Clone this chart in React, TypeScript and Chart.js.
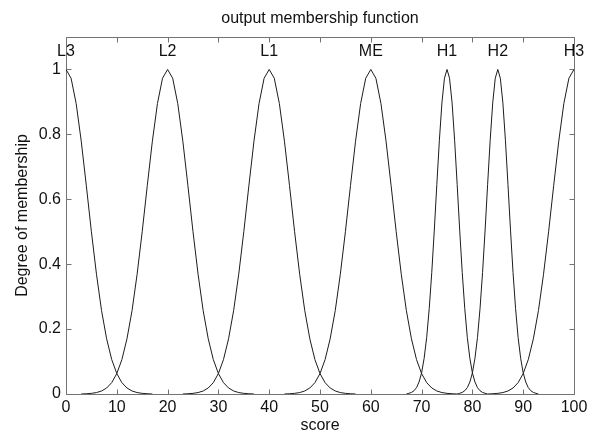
import React, { useEffect, useRef } from "react";
import { Chart, registerables } from "chart.js";

Chart.register(...registerables);

const chartTitle = "output membership function";
const xAxisTitle = "score";
const yAxisTitle = "Degree of membership";

const xTicks = [0, 10, 20, 30, 40, 50, 60, 70, 80, 90, 100];
const yTicks = [0, 0.2, 0.4, 0.6, 0.8, 1];

const mfNames = ["L3", "L2", "L1", "ME", "H1", "H2", "H3"];
const mfCenters = [0, 20, 40, 60, 75, 85, 100];
const mfLabelLevel = 1.04;

// L3 (centre 0)
const L3_x = [0, 1, 2, 3, 4, 5, 6, 7, 8, 9, 10, 11, 12, 13, 14, 15, 16, 17];
const L3_y = [1, 0.973, 0.895, 0.779, 0.642, 0.5, 0.369, 0.257, 0.17, 0.106, 0.063, 0.035, 0.0185, 0.0093, 0.0044, 0.002, 0.0008, 0];

// L2 (centre 20)
const L2_x = [3, 4, 5, 6, 7, 8, 9, 10, 11, 12, 13, 14, 15, 16, 17, 18, 19, 20, 21, 22, 23, 24, 25, 26, 27, 28, 29, 30, 31, 32, 33, 34, 35, 36, 37];
const L2_y = [0, 0.0008, 0.002, 0.0044, 0.0093, 0.0185, 0.035, 0.063, 0.106, 0.17, 0.257, 0.369, 0.5, 0.642, 0.779, 0.895, 0.973, 1, 0.973, 0.895, 0.779, 0.642, 0.5, 0.369, 0.257, 0.17, 0.106, 0.063, 0.035, 0.0185, 0.0093, 0.0044, 0.002, 0.0008, 0];

// L1 (centre 40)
const L1_x = [23, 24, 25, 26, 27, 28, 29, 30, 31, 32, 33, 34, 35, 36, 37, 38, 39, 40, 41, 42, 43, 44, 45, 46, 47, 48, 49, 50, 51, 52, 53, 54, 55, 56, 57];
const L1_y = [0, 0.0008, 0.002, 0.0044, 0.0093, 0.0185, 0.035, 0.063, 0.106, 0.17, 0.257, 0.369, 0.5, 0.642, 0.779, 0.895, 0.973, 1, 0.973, 0.895, 0.779, 0.642, 0.5, 0.369, 0.257, 0.17, 0.106, 0.063, 0.035, 0.0185, 0.0093, 0.0044, 0.002, 0.0008, 0];

// ME (centre 60)
const ME_x = [43, 44, 45, 46, 47, 48, 49, 50, 51, 52, 53, 54, 55, 56, 57, 58, 59, 60, 61, 62, 63, 64, 65, 66, 67, 68, 69, 70, 71, 72, 73, 74, 75, 76, 77];
const ME_y = [0, 0.0008, 0.002, 0.0044, 0.0093, 0.0185, 0.035, 0.063, 0.106, 0.17, 0.257, 0.369, 0.5, 0.642, 0.779, 0.895, 0.973, 1, 0.973, 0.895, 0.779, 0.642, 0.5, 0.369, 0.257, 0.17, 0.106, 0.063, 0.035, 0.0185, 0.0093, 0.0044, 0.002, 0.0008, 0];

// H1 (centre 75, narrow)
const H1_x = [67, 67.5, 68, 68.5, 69, 69.5, 70, 70.5, 71, 71.5, 72, 72.5, 73, 73.5, 74, 74.5, 75, 75.5, 76, 76.5, 77, 77.5, 78, 78.5, 79, 79.5, 80, 80.5, 81, 81.5, 82, 82.5, 83];
const H1_y = [0, 0.0022, 0.0048, 0.01, 0.0196, 0.037, 0.065, 0.11, 0.174, 0.263, 0.374, 0.505, 0.646, 0.782, 0.897, 0.973, 1, 0.973, 0.897, 0.782, 0.646, 0.505, 0.374, 0.263, 0.174, 0.11, 0.065, 0.037, 0.0196, 0.01, 0.0048, 0.0022, 0];

// H2 (centre 85, narrow)
const H2_x = [77, 77.5, 78, 78.5, 79, 79.5, 80, 80.5, 81, 81.5, 82, 82.5, 83, 83.5, 84, 84.5, 85, 85.5, 86, 86.5, 87, 87.5, 88, 88.5, 89, 89.5, 90, 90.5, 91, 91.5, 92, 92.5, 93];
const H2_y = [0, 0.0022, 0.0048, 0.01, 0.0196, 0.037, 0.065, 0.11, 0.174, 0.263, 0.374, 0.505, 0.646, 0.782, 0.897, 0.973, 1, 0.973, 0.897, 0.782, 0.646, 0.505, 0.374, 0.263, 0.174, 0.11, 0.065, 0.037, 0.0196, 0.01, 0.0048, 0.0022, 0];

// H3 (centre 100)
const H3_x = [83, 84, 85, 86, 87, 88, 89, 90, 91, 92, 93, 94, 95, 96, 97, 98, 99, 100];
const H3_y = [0, 0.0008, 0.002, 0.0044, 0.0093, 0.0185, 0.035, 0.063, 0.106, 0.17, 0.257, 0.369, 0.5, 0.642, 0.779, 0.895, 0.973, 1];

const curveXs = [L3_x, L2_x, L1_x, ME_x, H1_x, H2_x, H3_x];
const curveYs = [L3_y, L2_y, L1_y, ME_y, H1_y, H2_y, H3_y];

const AXIS_COLOR = "#737373";
const LINE_COLOR = "#1c1c1c";
const TEXT_COLOR = "#111111";
const FONT_FAMILY = '"Liberation Sans", Arial, Helvetica, sans-serif';
const FONT_SIZE = 16;

const decorPlugin = {
  id: "matlabDecor",
  beforeDatasetsDraw(chart: any) {
    const { ctx, chartArea: a, scales } = chart;
    const xs = scales.x;
    const ys = scales.y;
    ctx.save();
    ctx.strokeStyle = AXIS_COLOR;
    ctx.lineWidth = 1;
    const L = Math.round(a.left) + 0.5;
    const R = Math.round(a.right) + 0.5;
    const T = Math.round(a.top) + 0.5;
    const B = Math.round(a.bottom) + 0.5;
    ctx.beginPath();
    ctx.rect(L, T, R - L, B - T);
    ctx.stroke();
    const tl = 5;
    ctx.beginPath();
    xTicks.forEach((v) => {
      const px = Math.round(xs.getPixelForValue(v)) + 0.5;
      ctx.moveTo(px, B);
      ctx.lineTo(px, B - tl);
      ctx.moveTo(px, T);
      ctx.lineTo(px, T + tl);
    });
    yTicks.forEach((v) => {
      const py = Math.round(ys.getPixelForValue(v)) + 0.5;
      ctx.moveTo(L, py);
      ctx.lineTo(L + tl, py);
      ctx.moveTo(R, py);
      ctx.lineTo(R - tl, py);
    });
    ctx.stroke();
    ctx.restore();
  },
  afterDraw(chart: any) {
    const { ctx, chartArea: a, scales } = chart;
    const xs = scales.x;
    const ys = scales.y;
    ctx.save();
    ctx.fillStyle = TEXT_COLOR;
    ctx.font = `${FONT_SIZE}px ${FONT_FAMILY}`;
    ctx.textAlign = "center";
    ctx.textBaseline = "alphabetic";
    const cx = (a.left + a.right) / 2;
    ctx.fillText(chartTitle, cx, 23);
    ctx.fillText(xAxisTitle, cx, 430);
    mfNames.forEach((n, i) => {
      ctx.fillText(n, xs.getPixelForValue(mfCenters[i]), ys.getPixelForValue(mfLabelLevel));
    });
    ctx.translate(27, (a.top + a.bottom) / 2);
    ctx.rotate(-Math.PI / 2);
    ctx.fillText(yAxisTitle, 0, 0);
    ctx.restore();
  },
};

export default function App() {
  const canvasRef = useRef<HTMLCanvasElement | null>(null);

  useEffect(() => {
    if (!canvasRef.current) return;
    const datasets = mfNames.map((name, i) => ({
      label: name,
      data: curveXs[i].map((x, j) => ({ x, y: curveYs[i][j] })),
      borderColor: LINE_COLOR,
      borderWidth: 1,
      pointRadius: 0,
      fill: false,
      tension: 0,
    }));
    const chart = new Chart(canvasRef.current, {
      type: "line",
      data: { datasets },
      options: {
        animation: false,
        responsive: true,
        maintainAspectRatio: false,
        layout: { padding: { left: 0, right: 20, top: 37, bottom: 0 } },
        plugins: {
          legend: { display: false },
          title: { display: false },
          tooltip: { enabled: false },
        },
        scales: {
          x: {
            type: "linear",
            min: 0,
            max: 100,
            grid: { display: false, drawTicks: false },
            border: { display: false },
            afterBuildTicks: (scale: any) => {
              scale.ticks = xTicks.map((v) => ({ value: v }));
            },
            afterFit: (scale: any) => {
              scale.height = 40;
            },
            ticks: {
              padding: 4,
              color: TEXT_COLOR,
              font: { family: FONT_FAMILY, size: FONT_SIZE },
              maxRotation: 0,
              autoSkip: false,
              callback: (v: any) => String(v),
            },
          },
          y: {
            type: "linear",
            min: 0,
            max: 1.1,
            grid: { display: false, drawTicks: false },
            border: { display: false },
            afterBuildTicks: (scale: any) => {
              scale.ticks = yTicks.map((v) => ({ value: v }));
            },
            afterFit: (scale: any) => {
              scale.width = 66;
            },
            ticks: {
              padding: 5,
              color: TEXT_COLOR,
              font: { family: FONT_FAMILY, size: FONT_SIZE },
              autoSkip: false,
              callback: (v: any) => String(v),
            },
          },
        },
      },
      plugins: [decorPlugin],
    });
    return () => chart.destroy();
  }, []);

  return (
    <div style={{ position: "absolute", left: 0, top: 0, width: 594, height: 434, background: "#ffffff" }}>
      <canvas ref={canvasRef} />
    </div>
  );
}
